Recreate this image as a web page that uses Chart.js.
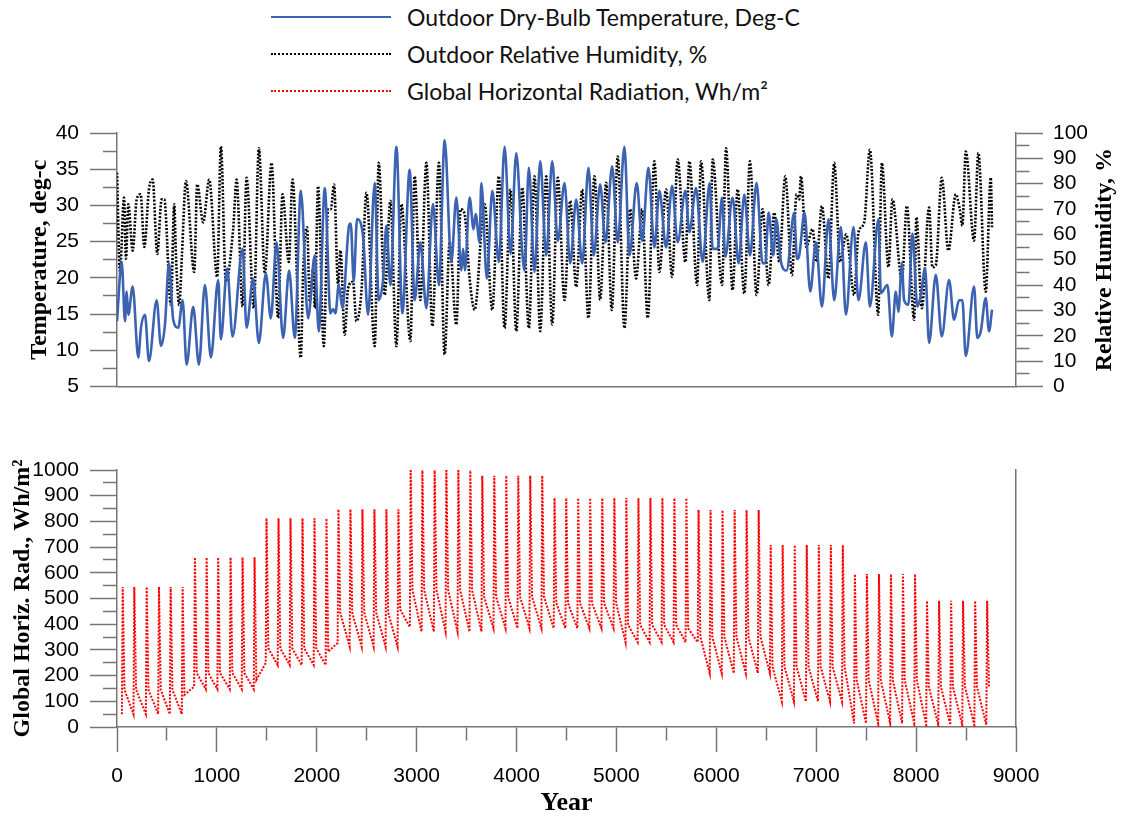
<!DOCTYPE html>
<html>
<head>
<meta charset="utf-8">
<script src="https://cdn.jsdelivr.net/npm/chart.js@4.4.1/dist/chart.umd.min.js"></script>
<style>
  html, body { margin: 0; padding: 0; background: #fff; }
  body { width: 1126px; height: 820px; position: relative; overflow: hidden; }
  #legend { position: absolute; left: 271px; top: 0; font-family: Lato, "Open Sans", sans-serif; font-size: 23px; color: #111; }
  .row { position: absolute; left: 0; height: 26px; white-space: nowrap; display: flex; align-items: center; }
  .swatch { width: 120px; height: 0; margin-right: 16px; }
  canvas { position: absolute; left: 0; }
  #top { top: 100px; }
  #bottom { top: 440px; }
</style>
</head>
<body>
<div id="legend"></div>
<canvas id="top" width="1126" height="310"></canvas>
<canvas id="bottom" width="1126" height="380"></canvas>
<script>
// series names and axis titles
const seriesNames = ['Outdoor Dry-Bulb Temperature, Deg-C', 'Outdoor Relative Humidity, %', 'Global Horizontal Radiation, Wh/m\u00b2'];
const tempAxisTitle = 'Temperature, deg-c';
const rhAxisTitle = 'Relative Humidity, %';
const radAxisTitle = 'Global Horiz. Rad., Wh/m\u00b2';
const xAxisTitle = 'Year';

// labelled ticks
const tempTicks = [5, 10, 15, 20, 25, 30, 35, 40];
const rhTicks = [0, 10, 20, 30, 40, 50, 60, 70, 80, 90, 100];
const radTicks = [0, 100, 200, 300, 400, 500, 600, 700, 800, 900, 1000];
const hourTicks = [0, 1000, 2000, 3000, 4000, 5000, 6000, 7000, 8000, 9000];

// outdoor dry-bulb temperature (hour, deg C) read at the turning points
const tempHour = [
  0, 47, 80, 97, 113, 157, 213, 240, 280, 320,
  397, 440, 480, 520, 563, 613, 657, 697, 763, 820,
  880, 940, 1013, 1040, 1103, 1157, 1257, 1297, 1363, 1420,
  1490, 1540, 1597, 1663, 1723, 1780, 1840, 1913, 1980, 2020,
  2080, 2137, 2163, 2187, 2220, 2257, 2323, 2340, 2370, 2403,
  2463, 2513, 2580, 2620, 2663, 2697, 2737, 2797, 2857, 2930,
  2980, 3037, 3097, 3163, 3223, 3280, 3347, 3397, 3447, 3465,
  3483, 3530, 3570, 3590, 3630, 3647, 3703, 3757, 3823, 3880,
  3940, 3997, 4057, 4080, 4123, 4180, 4237, 4297, 4357, 4413,
  4480, 4537, 4597, 4657, 4720, 4773, 4837, 4890, 4957, 5013,
  5080, 5130, 5203, 5257, 5320, 5380, 5430, 5497, 5557, 5613,
  5690, 5730, 5797, 5863, 5933, 5963, 6013, 6057, 6090, 6163,
  6223, 6280, 6337, 6403, 6463, 6490, 6523, 6570, 6600, 6647,
  6703, 6780, 6807, 6830, 6883, 6940, 6997, 7057, 7123, 7180,
  7247, 7297, 7373, 7423, 7497, 7537, 7623, 7647, 7713, 7757,
  7797, 7823, 7857, 7880, 7923, 7963, 8013, 8047, 8090, 8130,
  8197, 8257, 8330, 8380, 8430, 8463, 8497, 8580, 8613, 8647,
  8697, 8730, 8760
];
const tempValue = [
  14.0, 22.2, 14.0, 18.1, 14.9, 18.8, 9.0, 13.1, 14.9, 8.5,
  16.9, 10.6, 13.5, 22.0, 14.2, 13.1, 16.9, 8.0, 16.0, 8.0,
  19.0, 9.0, 19.7, 11.5, 21.3, 11.9, 24.0, 13.1, 19.9, 11.0,
  20.6, 14.4, 24.9, 11.7, 21.0, 11.7, 32.0, 14.4, 23.1, 12.6,
  32.4, 15.1, 15.7, 15.1, 19.0, 15.8, 27.2, 27.5, 19.5, 28.1,
  25.8, 14.9, 33.1, 16.9, 19.7, 27.2, 19.0, 38.1, 15.1, 34.9,
  16.9, 24.9, 15.8, 30.2, 19.0, 39.0, 22.2, 31.1, 21.0, 24.0,
  21.0, 31.1, 26.7, 28.8, 24.9, 33.1, 19.9, 32.0, 22.2, 38.1,
  23.3, 37.2, 23.6, 21.0, 35.2, 20.8, 36.1, 23.1, 36.1, 25.1,
  33.1, 22.0, 30.8, 22.0, 35.2, 23.1, 32.9, 24.9, 35.4, 24.9,
  38.1, 23.1, 33.1, 25.1, 35.2, 24.2, 32.0, 24.2, 32.7, 24.9,
  32.0, 26.3, 32.4, 22.2, 33.1, 24.0, 24.0, 31.1, 22.9, 31.1,
  22.0, 31.5, 23.1, 33.1, 22.0, 22.0, 29.0, 23.1, 28.1, 22.2,
  21.0, 29.0, 22.6, 23.1, 29.0, 18.1, 24.9, 16.0, 28.1, 16.9,
  27.0, 14.9, 27.0, 16.9, 24.9, 16.0, 28.1, 17.9, 19.0, 11.9,
  18.1, 15.3, 22.0, 16.9, 16.3, 26.1, 16.0, 17.6, 21.3, 11.0,
  20.4, 11.9, 19.7, 14.2, 16.9, 16.9, 9.2, 18.8, 11.7, 12.6,
  17.2, 12.6, 15.6
];

// outdoor relative humidity (hour, %)
const rhHour = [
  0, 30, 70, 90, 113, 157, 197, 237, 273, 320,
  357, 403, 447, 473, 540, 573, 590, 623, 650, 690,
  773, 803, 863, 923, 1003, 1040, 1090, 1163, 1197, 1257,
  1297, 1370, 1420, 1480, 1547, 1613, 1657, 1720, 1757, 1840,
  1863, 1903, 1930, 1963, 1980, 2013, 2070, 2113, 2140, 2173,
  2213, 2237, 2280, 2313, 2363, 2397, 2447, 2497, 2580, 2620,
  2680, 2737, 2797, 2847, 2937, 2980, 3037, 3097, 3157, 3223,
  3280, 3330, 3397, 3440, 3480, 3530, 3580, 3680, 3757, 3823,
  3880, 3940, 3997, 4057, 4123, 4180, 4237, 4297, 4357, 4413,
  4480, 4537, 4597, 4657, 4720, 4780, 4837, 4897, 4953, 5013,
  5080, 5137, 5197, 5257, 5313, 5380, 5430, 5497, 5557, 5613,
  5690, 5730, 5807, 5847, 5930, 5963, 6057, 6097, 6163, 6213,
  6280, 6337, 6403, 6463, 6523, 6580, 6630, 6690, 6757, 6803,
  6830, 6847, 6900, 6963, 7003, 7057, 7123, 7180, 7240, 7300,
  7380, 7423, 7480, 7537, 7620, 7657, 7723, 7763, 7857,
  7907, 7980, 8003, 8057, 8130, 8163, 8197, 8257, 8323, 8397,
  8437, 8463, 8497, 8580, 8623, 8697, 8747, 8760
];
const rhValue = [
  84.3, 45.2, 74.5, 50.4, 71.9, 53.6, 73.8, 75.8, 55.0, 77.7,
  81.6, 52.3, 73.8, 73.8, 32.1, 71.9, 51.7, 32.1, 51.7, 81.0,
  45.2, 79.7, 64.7, 81.6, 43.2, 94.7, 41.3, 62.1, 81.6, 31.5,
  82.3, 30.9, 94.0, 44.5, 88.2, 27.0, 75.8, 49.1, 81.6, 11.3,
  45.2, 62.8, 33.5, 46.5, 30.9, 79.0, 15.9, 69.9, 69.9, 79.7,
  40.0, 53.6, 20.4, 38.7, 41.3, 25.7, 37.4, 76.4, 15.9, 88.2,
  36.1, 73.2, 15.9, 71.9, 17.9, 82.9, 34.1, 88.2, 23.7, 88.2,
  12.6, 56.9, 24.4, 69.9, 68.0, 42.6, 30.2, 71.9, 30.2, 82.9,
  23.0, 77.7, 21.8, 78.4, 23.0, 82.9, 21.8, 82.9, 24.4, 82.3,
  34.1, 73.2, 39.3, 77.7, 27.0, 82.9, 34.1, 80.3, 30.2, 90.7,
  23.0, 69.9, 42.6, 69.9, 27.0, 88.8, 45.2, 77.7, 43.2, 89.5,
  49.1, 88.8, 40.0, 88.8, 34.1, 89.5, 40.0, 94.0, 38.0, 77.7,
  36.7, 88.8, 36.1, 69.9, 40.0, 68.6, 49.1, 82.9, 43.9, 75.8,
  73.8, 82.9, 55.0, 62.1, 49.1, 71.2, 42.6, 88.2, 49.1, 60.0,
  36.1, 60.8, 64.7, 93.4, 28.3, 88.2, 47.1, 73.8, 42.0,
  71.2, 26.3, 66.7, 30.9, 70.6, 47.0, 47.8, 82.3, 53.6, 75.8,
  69.9, 63.4, 92.7, 57.5, 92.1, 37.4, 82.3, 62.8
];

// global horizontal radiation (hour, Wh/m2): base, spike, knee of each cycle
const radHour = [
  49, 57, 75, 165, 173, 191, 289, 297, 315, 412, 420, 438, 529, 537, 555, 649, 657, 675,
  772, 780, 798, 889, 897, 915, 1005, 1013, 1031, 1129, 1137, 1155, 1249, 1257, 1275, 1369, 1377, 1395,
  1489, 1497, 1515, 1609, 1617, 1635, 1729, 1737, 1755, 1849, 1857, 1875, 1969, 1977, 1995, 2089, 2097, 2115,
  2209, 2217, 2235, 2329, 2337, 2355, 2449, 2457, 2475, 2569, 2577, 2595, 2689, 2697, 2715, 2809, 2817, 2835,
  2932, 2940, 2958, 3049, 3057, 3075, 3172, 3180, 3198, 3289, 3297, 3315, 3409, 3417, 3435, 3529, 3537, 3555,
  3649, 3657, 3675, 3769, 3777, 3795, 3889, 3897, 3915, 4009, 4017, 4035, 4129, 4137, 4155, 4249, 4257, 4275,
  4372, 4380, 4398, 4489, 4497, 4515, 4609, 4617, 4635, 4729, 4737, 4755, 4850, 4858, 4876, 4971, 4979, 4997,
  5091, 5099, 5117, 5212, 5220, 5238, 5332, 5340, 5358, 5452, 5460, 5478, 5572, 5580, 5598, 5692, 5700, 5718,
  5814, 5822, 5840, 5934, 5942, 5960, 6054, 6062, 6080, 6175, 6183, 6201, 6295, 6303, 6321, 6416, 6424, 6442,
  6536, 6544, 6562, 6656, 6664, 6682, 6777, 6785, 6803, 6897, 6905, 6923, 7018, 7026, 7044, 7138, 7146, 7164, 7258, 7266, 7284,
  7379, 7387, 7405, 7499, 7507, 7525, 7620, 7628, 7646, 7740, 7748, 7766, 7860, 7868, 7886, 7981, 7989, 8007,
  8101, 8109, 8127, 8222, 8230, 8248, 8342, 8350, 8368, 8462, 8470, 8488, 8583, 8591, 8609, 8703, 8711, 8729
];
const radValue = [
  50, 545, 145, 50, 545, 145, 50, 545, 145, 50, 545, 145, 50, 545, 145, 50, 545, 125,
  157, 660, 210, 147, 660, 210, 147, 660, 210, 147, 660, 210, 147, 660, 210, 147, 660, 183,
  249, 812, 306, 241, 812, 306, 241, 812, 306, 241, 812, 306, 241, 812, 306, 241, 812, 293,
  327, 847, 445, 312, 847, 445, 312, 847, 445, 312, 847, 445, 312, 847, 445, 312, 847, 457,
  389, 1004, 533, 371, 1004, 533, 371, 1004, 533, 371, 1004, 533, 371, 1004, 533, 371, 1004, 533,
  371, 978, 507, 384, 978, 507, 384, 978, 507, 384, 978, 507, 384, 978, 507, 384, 978, 507,
  384, 891, 482, 384, 891, 482, 384, 891, 482, 384, 891, 482, 384, 891, 482, 384, 891, 482,
  330, 891, 397, 330, 891, 397, 330, 891, 397, 330, 891, 397, 330, 891, 397, 330, 891, 384,
  330, 844, 351, 209, 844, 351, 209, 844, 351, 209, 844, 351, 209, 844, 351, 209, 844, 351,
  209, 708, 235, 99, 708, 235, 99, 708, 235, 99, 708, 235, 99, 708, 235, 99, 708, 235, 99, 708, 235,
  14, 595, 183, 14, 595, 183, 14, 595, 183, 14, 595, 183, 14, 595, 183, 14, 595, 183,
  8, 491, 157, 8, 491, 157, 8, 491, 157, 8, 491, 157, 8, 491, 157, 8, 491, 157
];

const blue = '#3b63b2';
const axisGray = '#767676';

Chart.defaults.font.family = '"Liberation Sans", Arial, sans-serif';
Chart.defaults.font.size = 21;
Chart.defaults.color = '#000';
Chart.defaults.animation = false;

// legend (html)
const legendStyles = ['2px solid ' + blue, '2px dotted #000', '2px dotted #f00'];
const legendEl = document.getElementById('legend');
seriesNames.forEach((name, i) => {
  const row = document.createElement('div');
  row.className = 'row';
  row.style.top = (4 + i * 37) + 'px';
  const sw = document.createElement('span');
  sw.className = 'swatch';
  sw.style.borderTop = legendStyles[i];
  const tx = document.createElement('span');
  tx.textContent = name;
  row.appendChild(sw);
  row.appendChild(tx);
  legendEl.appendChild(row);
});

function toPoints(xs, ys) {
  return xs.map((x, i) => ({x: x, y: ys[i]}));
}

// minor ticks are drawn shorter through a dash on the tick line
function tickDash(majors, fromOuter) {
  return function(ctx) {
    if (!ctx.tick || majors.includes(ctx.tick.value)) return [];
    return fromOuter ? [0, 13, 14, 100] : [13, 100];
  };
}

const serif = '"Liberation Serif", "Times New Roman", serif';
const titleFont = {family: serif, weight: 'bold', size: 24};

// right axis title reads bottom-to-top like the left one
const rightTitle = {
  id: 'rightTitle',
  afterDraw(chart) {
    const s = chart.scales.yRH;
    if (!s) return;
    const c = chart.ctx;
    c.save();
    c.translate(s.right - 21, (s.top + s.bottom) / 2);
    c.rotate(-Math.PI / 2);
    c.font = 'bold 24px ' + serif;
    c.fillStyle = '#000';
    c.textAlign = 'center';
    c.textBaseline = 'middle';
    c.fillText(rhAxisTitle, 0, 0);
    c.restore();
  }
};

new Chart(document.getElementById('top'), {
  type: 'line',
  data: {
    datasets: [
      {
        label: seriesNames[0],
        data: toPoints(tempHour, tempValue),
        yAxisID: 'yT',
        borderColor: blue,
        borderWidth: 2.6,
        pointRadius: 0,
        cubicInterpolationMode: 'monotone'
      },
      {
        label: seriesNames[1],
        data: toPoints(rhHour, rhValue),
        yAxisID: 'yRH',
        borderColor: '#000',
        borderWidth: 2.6,
        borderDash: [2, 1.6],
        pointRadius: 0,
        cubicInterpolationMode: 'monotone'
      }
    ]
  },
  options: {
    responsive: false,
    devicePixelRatio: 1,
    layout: {padding: {top: 33, bottom: 0, left: 0, right: 0}},
    plugins: {legend: {display: false}, tooltip: {enabled: false}},
    scales: {
      x: {
        type: 'linear', min: 0, max: 9000,
        ticks: {display: false},
        grid: {drawOnChartArea: false, drawTicks: false},
        border: {color: axisGray, width: 1.5},
        afterFit: s => { s.height = 21; }
      },
      yT: {
        position: 'left', min: 5, max: 40,
        ticks: {stepSize: 2.5, autoSkip: false, padding: 11, callback: v => tempTicks.includes(v) ? v : ''},
        grid: {drawOnChartArea: false, tickLength: 27, tickColor: axisGray, tickWidth: 1.5, tickBorderDash: tickDash(tempTicks, true)},
        border: {color: axisGray, width: 1.5},
        title: {display: true, text: tempAxisTitle, font: titleFont, padding: {top: 25, bottom: 0}},
        afterFit: s => { s.width = 117; }
      },
      yRH: {
        position: 'right', min: 0, max: 100,
        ticks: {stepSize: 5, autoSkip: false, padding: 10, callback: v => rhTicks.includes(v) ? v : ''},
        grid: {drawOnChartArea: false, tickLength: 27, tickColor: axisGray, tickWidth: 1.5, tickBorderDash: tickDash(rhTicks, false)},
        border: {color: axisGray, width: 1.5},
        afterFit: s => { s.width = 110; }
      }
    }
  },
  plugins: [rightTitle]
});

new Chart(document.getElementById('bottom'), {
  type: 'line',
  data: {
    datasets: [
      {
        label: seriesNames[2],
        data: toPoints(radHour, radValue),
        yAxisID: 'y',
        borderColor: '#ff0000',
        borderWidth: 2,
        borderDash: [2, 1.5],
        pointRadius: 0,
        tension: 0
      }
    ]
  },
  options: {
    responsive: false,
    devicePixelRatio: 1,
    layout: {padding: {top: 30, bottom: 0, left: 0, right: 0}},
    plugins: {legend: {display: false}, tooltip: {enabled: false}},
    scales: {
      x: {
        type: 'linear', min: 0, max: 9000,
        ticks: {stepSize: 500, autoSkip: false, maxRotation: 0, padding: 12, callback: v => hourTicks.includes(v) ? v : ''},
        grid: {drawOnChartArea: false, tickLength: 25, tickColor: axisGray, tickWidth: 1.5, tickBorderDash: tickDash(hourTicks, false)},
        border: {color: axisGray, width: 1.5},
        title: {display: true, text: xAxisTitle, font: {family: serif, weight: 'bold', size: 26}, padding: {top: 0, bottom: 1}},
        afterFit: s => { s.height = 93; }
      },
      y: {
        position: 'left', min: 0, max: 1000,
        ticks: {stepSize: 50, autoSkip: false, padding: 11, callback: v => radTicks.includes(v) ? v : ''},
        grid: {drawOnChartArea: false, tickLength: 27, tickColor: axisGray, tickWidth: 1.5, tickBorderDash: tickDash(radTicks, true)},
        border: {color: axisGray, width: 1.5},
        title: {display: true, text: radAxisTitle, font: titleFont, padding: {top: 8, bottom: 0}},
        afterFit: s => { s.width = 117; }
      },
      y2: {
        position: 'right', min: 0, max: 1000,
        ticks: {display: false},
        grid: {drawOnChartArea: false, drawTicks: false},
        border: {color: axisGray, width: 1.5},
        afterFit: s => { s.width = 110; }
      }
    }
  }
});
</script>
</body>
</html>
